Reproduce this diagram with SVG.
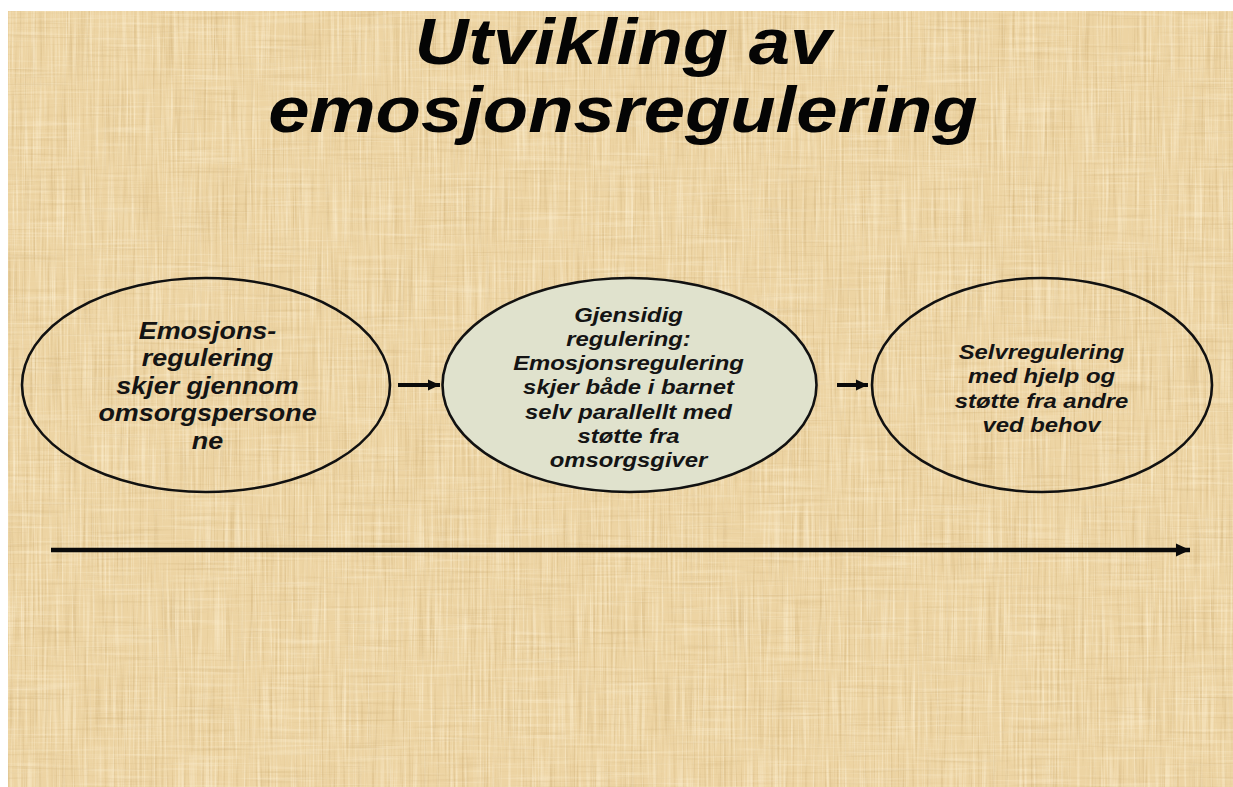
<svg xmlns="http://www.w3.org/2000/svg" width="1233" height="787" viewBox="0 0 1233 787">
<style>
.t{font-family:"Liberation Sans",Arial,sans-serif;font-weight:bold;font-style:italic;fill:#141414;text-anchor:middle}
.title{font-size:64px;fill:#050505}
.lab{font-size:20.4px}
.labL{font-size:23px}
.node{stroke:#111;stroke-width:2.6}
.conn{stroke:#0a0a0a;fill:none}
</style>
<defs>
<marker id="ahS" markerUnits="userSpaceOnUse" markerWidth="13" markerHeight="13" refX="12" refY="6.5" orient="auto">
<path d="M0,1 L12,6.5 L0,12 Z" fill="#0a0a0a"/>
</marker>
<marker id="ahL" markerUnits="userSpaceOnUse" markerWidth="15" markerHeight="15" refX="14" refY="7.5" orient="auto">
<path d="M0,1 L14,7.5 L0,14 Z" fill="#0a0a0a"/>
</marker>
<filter id="tex" x="0" y="0" width="100%" height="100%" color-interpolation-filters="sRGB">
<feTurbulence type="fractalNoise" baseFrequency="0.45 0.012" numOctaves="2" seed="4" result="v"/>
<feColorMatrix in="v" type="matrix" values="0 0 0 0 0.78  0 0 0 0 0.65  0 0 0 0 0.42  1.1 0 0 0 -0.56" result="vd"/>
<feColorMatrix in="v" type="matrix" values="0 0 0 0 1  0 0 0 0 0.96  0 0 0 0 0.86  0 1.3 0 0 -0.6" result="vl"/>
<feTurbulence type="fractalNoise" baseFrequency="0.012 0.35" numOctaves="2" seed="9" result="h"/>
<feColorMatrix in="h" type="matrix" values="0 0 0 0 1  0 0 0 0 0.96  0 0 0 0 0.86  1.0 0 0 0 -0.52" result="hl"/>
<feColorMatrix in="h" type="matrix" values="0 0 0 0 0.78  0 0 0 0 0.65  0 0 0 0 0.42  0 0.8 0 0 -0.45" result="hd"/>
<feMerge><feMergeNode in="vd"/><feMergeNode in="vl"/><feMergeNode in="hd"/><feMergeNode in="hl"/></feMerge>
</filter>
</defs>
<rect x="0" y="0" width="1233" height="787" fill="#ffffff"/>
<rect x="8" y="11" width="1225" height="776" fill="#EDD4A3"/>
<rect x="8" y="11" width="1225" height="776" fill="#000" filter="url(#tex)"/>

<g id="title">
<text class="t title" transform="translate(623,64) scale(1.16,1)" x="0" y="0">Utvikling av</text>
<text class="t title" transform="translate(623,132) scale(1.16,1)" x="0" y="0">emosjonsregulering</text>
</g>

<g id="node1">
<ellipse class="node" cx="206" cy="385" rx="184" ry="107" fill="none"/>
<g transform="translate(207.5,0) scale(1.17,1)">
<text class="t labL" x="0" y="339">Emosjons-</text>
<text class="t labL" x="0" y="366.5">regulering</text>
<text class="t labL" x="0" y="394">skjer gjennom</text>
<text class="t labL" x="0" y="421.5">omsorgspersone</text>
<text class="t labL" x="0" y="449">ne</text>
</g>
</g>

<g id="node2">
<ellipse class="node" cx="629.5" cy="385" rx="187" ry="107" fill="#E0E2CD"/>
<g transform="translate(628.5,0) scale(1.17,1)">
<text class="t lab" x="0" y="322">Gjensidig</text>
<text class="t lab" x="0" y="346">regulering:</text>
<text class="t lab" x="0" y="370">Emosjonsregulering</text>
<text class="t lab" x="0" y="394.5">skjer både i barnet</text>
<text class="t lab" x="0" y="419">selv parallellt med</text>
<text class="t lab" x="0" y="443">støtte fra</text>
<text class="t lab" x="0" y="467">omsorgsgiver</text>
</g>
</g>

<g id="node3">
<ellipse class="node" cx="1042" cy="385" rx="170" ry="107" fill="none"/>
<g transform="translate(1041.5,0) scale(1.17,1)">
<text class="t lab" x="0" y="359">Selvregulering</text>
<text class="t lab" x="0" y="383.5">med hjelp og</text>
<text class="t lab" x="0" y="408">støtte fra andre</text>
<text class="t lab" x="0" y="432.5">ved behov</text>
</g>
</g>

<g id="connectors">
<line class="conn" x1="398" y1="385" x2="440" y2="385" stroke-width="4" marker-end="url(#ahS)"/>
<line class="conn" x1="837" y1="385" x2="868" y2="385" stroke-width="4" marker-end="url(#ahS)"/>
<line class="conn" x1="51" y1="550" x2="1190" y2="550" stroke-width="4.6" marker-end="url(#ahL)"/>
</g>
</svg>
